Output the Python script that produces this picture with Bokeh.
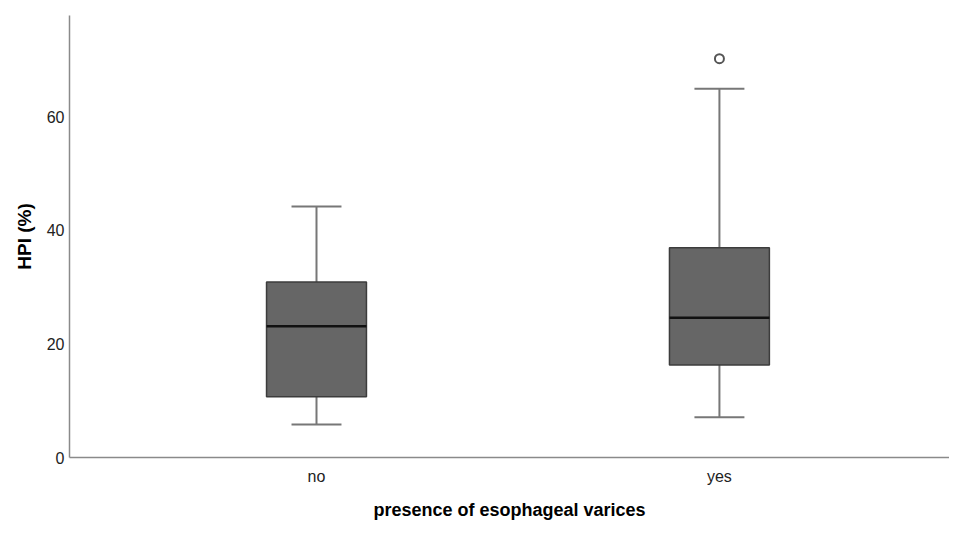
from bokeh.plotting import figure
from bokeh.models import FixedTicker, Range1d
from bokeh.embed import file_html
from bokeh.resources import INLINE

categories = ["no", "yes"]
positions = [1, 2]
whisker_low = [5.8, 7.1]
q1 = [10.7, 16.3]
median = [23.1, 24.6]
q3 = [30.9, 36.9]
whisker_high = [44.2, 64.9]
outlier_x = [2]
outlier_y = [70.2]
y_ticks = [0, 20, 40, 60]

box_w = 0.248
cap_w = 0.124

p = figure(width=949, height=522, output_backend="svg", toolbar_location=None,
           x_range=Range1d(0.387, 2.571), y_range=Range1d(0, 77.8),
           min_border_left=69, min_border_right=0, min_border_top=15, min_border_bottom=20)
p.outline_line_color = None
p.grid.visible = False
p.background_fill_color = "white"

# whiskers
p.segment(positions, whisker_low, positions, q1, line_color="#777777", line_width=2)
p.segment(positions, q3, positions, whisker_high, line_color="#777777", line_width=2)
p.segment([x - cap_w / 2 for x in positions], whisker_low, [x + cap_w / 2 for x in positions], whisker_low,
          line_color="#777777", line_width=2)
p.segment([x - cap_w / 2 for x in positions], whisker_high, [x + cap_w / 2 for x in positions], whisker_high,
          line_color="#777777", line_width=2)
# boxes
p.vbar(x=positions, width=box_w, bottom=q1, top=q3, fill_color="#666666", line_color="#3c3c3c", line_width=1.5)
# medians
p.segment([x - box_w / 2 for x in positions], median, [x + box_w / 2 for x in positions], median,
          line_color="#111111", line_width=2.5)
# outliers
p.scatter(outlier_x, outlier_y, marker="circle", size=9, fill_color="white", line_color="#555555", line_width=2)

p.xaxis.ticker = FixedTicker(ticks=positions)
p.xaxis.major_label_overrides = {pos: c for pos, c in zip(positions, categories)}
p.yaxis.ticker = FixedTicker(ticks=y_ticks)

for ax in (p.xaxis, p.yaxis):
    ax.axis_line_color = "#8a8a8a"
    ax.axis_line_width = 1.5
    ax.major_tick_line_color = None
    ax.minor_tick_line_color = None
    ax.major_tick_out = 0
    ax.major_tick_in = 0
    ax.minor_tick_out = 0
    ax.major_label_text_font = "Liberation Sans"
    ax.major_label_text_font_size = "16px"
    ax.major_label_text_color = "#222222"
    ax.axis_label_text_font = "Liberation Sans"
    ax.axis_label_text_font_style = "bold"
    ax.axis_label_text_color = "black"

p.xaxis.axis_label = "presence of esophageal varices"
p.yaxis.axis_label = "HPI (%)"
p.xaxis.axis_label_text_font_size = "18px"
p.yaxis.axis_label_text_font_size = "19px"
p.xaxis.major_label_standoff = 10
p.yaxis.major_label_standoff = 5
p.xaxis.axis_label_standoff = 12
p.yaxis.axis_label_standoff = 9

open("out.html", "w").write(file_html(p, INLINE))
